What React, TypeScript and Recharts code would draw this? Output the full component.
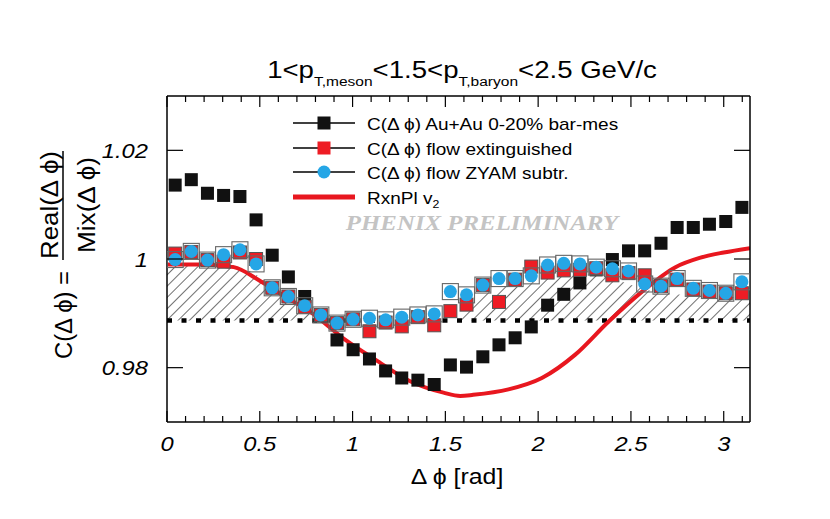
import React from "react";
import {
  ComposedChart,
  XAxis,
  YAxis,
  Scatter,
  Line,
  Area,
  ReferenceLine,
} from "recharts";

// ---- data ----
const phiBins = [
  0.044, 0.131, 0.218, 0.305, 0.393, 0.48, 0.567, 0.654, 0.742, 0.829, 0.916, 1.003,
  1.091, 1.178, 1.265, 1.352, 1.44, 1.527, 1.614, 1.702, 1.789, 1.876, 1.963, 2.051,
  2.138, 2.225, 2.313, 2.4, 2.487, 2.574, 2.662, 2.749, 2.836, 2.923, 3.011, 3.098,
];

const auAuBarMes = [
  1.0136, 1.0146, 1.0121, 1.0117, 1.0115, 1.0072, 1.0007, 0.9967, 0.9931, 0.9895, 0.9851, 0.9833,
  0.9816, 0.9794, 0.9781, 0.9777, 0.9769, 0.9805, 0.9801, 0.982, 0.9842, 0.9855, 0.9875, 0.9915,
  0.9935, 0.9956, 0.998, 0.9999, 1.0015, 1.0015, 1.0029, 1.0058, 1.0058, 1.0064, 1.0069, 1.0095,
];

const flowExtinguished = [
  1.001, 1.0013, 0.9998, 0.9995, 1.0012, 1.0, 0.9947, 0.9931, 0.9912, 0.9897, 0.9882, 0.9889,
  0.9867, 0.9883, 0.9876, 0.9893, 0.9878, 0.9904, 0.9916, 0.9952, 0.9921, 0.9962, 0.9986, 0.9975,
  0.9979, 0.998, 0.9983, 0.997, 0.9974, 0.997, 0.995, 0.9962, 0.9944, 0.994, 0.9937, 0.9937,
];

const flowZyamSubtr = [
  0.9999, 1.0014, 0.9998, 1.0008, 1.0017, 0.9991, 0.9947, 0.9931, 0.9914, 0.9897, 0.9882, 0.9889,
  0.9891, 0.9888, 0.9893, 0.9897, 0.9899, 0.994, 0.9934, 0.9952, 0.9964, 0.9964, 0.9969, 0.9989,
  0.9992, 0.9991, 0.9985, 0.9982, 0.9978, 0.9954, 0.995, 0.9964, 0.9946, 0.9942, 0.9937, 0.9958,
];

const v2Phi = [
  0.0, 0.18, 0.36, 0.5, 0.65, 0.77, 0.95, 1.135, 1.31, 1.49, 1.58, 1.65, 1.84, 2.02, 2.2, 2.38,
  2.56, 2.74, 2.87, 3.0, 3.1416,
];
const v2Values = [
  0.999, 0.999, 0.9985, 0.996, 0.9928, 0.9903, 0.9854, 0.9812, 0.9775, 0.9754, 0.9748, 0.975,
  0.976, 0.9781, 0.9824, 0.9885, 0.994, 0.9985, 1.0002, 1.0012, 1.002,
];

const zyamLevel = 0.9887;
const hatchPhi = [
  0.0, 0.35, 0.45, 0.55, 0.65, 0.75, 0.83, 1.55, 1.6, 1.7, 1.8, 1.9, 2.0, 2.1, 2.3, 2.4, 2.5, 2.6,
  2.8, 3.0, 3.1416,
];
const hatchTop = [
  0.999, 0.999, 0.9978, 0.9955, 0.993, 0.9902, 0.9887, 0.9887, 0.9908, 0.9935, 0.9947, 0.9955,
  0.9963, 0.997, 0.9972, 0.9965, 0.9952, 0.9942, 0.9933, 0.993, 0.993,
];

const xTicks = [
  0, 0.1, 0.2, 0.3, 0.4, 0.5, 0.6, 0.7, 0.8, 0.9, 1.0, 1.1, 1.2, 1.3, 1.4, 1.5, 1.6, 1.7, 1.8,
  1.9, 2.0, 2.1, 2.2, 2.3, 2.4, 2.5, 2.6, 2.7, 2.8, 2.9, 3.0, 3.1,
];
const yTicks = [0.98, 1.0, 1.02];
const xDomain = [0, Math.PI];
const yDomain = [0.97, 1.03];

const legendLabels = [
  "C(\u0394 \u03d5) Au+Au 0-20% bar-mes",
  "C(\u0394 \u03d5) flow extinguished",
  "C(\u0394 \u03d5) flow ZYAM subtr.",
  "RxnPl v",
];

// ---- derived tables ----
const blackData = phiBins.map((x, i) => ({ x, y: auAuBarMes[i] }));
const redData = phiBins.map((x, i) => ({ x, y: flowExtinguished[i] }));
const blueData = phiBins.map((x, i) => ({ x, y: flowZyamSubtr[i] }));
const v2Data = v2Phi.map((x, i) => ({ x, y: v2Values[i] }));
const hatchData = hatchPhi.map((x, i) => ({ x, band: [zyamLevel, hatchTop[i]] }));

// ---- styles ----
const SANS = "'Liberation Sans', Arial, Helvetica, sans-serif";
const SERIF = "'Liberation Serif', 'Times New Roman', serif";
const STRETCH = 1.13;
const BLACK = "#111111";
const RED = "#ee1c24";
const RED_LINE = "#e8171f";
const BLUE = "#25a6e6";

const isMajor = (v: number) => Math.abs(v * 2 - Math.round(v * 2)) < 1e-6;
const fmtX = (v: number) => String(Number(v.toFixed(1)));
const fmtY = (v: number) => (Math.abs(v - 1) < 1e-9 ? "1" : v.toFixed(2));

function XTickBottom(props: any) {
  const { x, y, payload } = props;
  const major = isMajor(payload.value);
  return (
    <g>
      <line x1={x} y1={y} x2={x} y2={y - (major ? 11 : 6)} stroke="#000" strokeWidth={1.2} />
      {major && (
        <g transform={`translate(${x},${y + 29}) scale(${STRETCH},1)`}>
          <text x={0} y={0} textAnchor="middle" fontFamily={SANS} fontStyle="italic" fontSize={21} fill="#000">
            {fmtX(payload.value)}
          </text>
        </g>
      )}
    </g>
  );
}

function XTickTop(props: any) {
  const { x, y, payload } = props;
  const major = isMajor(payload.value);
  return <line x1={x} y1={y} x2={x} y2={y + (major ? 11 : 6)} stroke="#000" strokeWidth={1.2} />;
}

function YTickLeft(props: any) {
  const { x, y, payload } = props;
  return (
    <g>
      <line x1={x} y1={y} x2={x + 16} y2={y} stroke="#000" strokeWidth={1.2} />
      <g transform={`translate(${x - 19},${y + 7.5}) scale(${STRETCH},1)`}>
        <text x={0} y={0} textAnchor="end" fontFamily={SANS} fontStyle="italic" fontSize={21} fill="#000">
          {fmtY(payload.value)}
        </text>
      </g>
    </g>
  );
}

function YTickRight(props: any) {
  const { x, y } = props;
  return <line x1={x} y1={y} x2={x - 16} y2={y} stroke="#000" strokeWidth={1.2} />;
}

const BlackSquare = (p: any) => (
  <rect x={p.cx - 6.5} y={p.cy - 6.5} width={13} height={13} fill={BLACK} />
);
const RedSquare = (p: any) => (
  <rect x={p.cx - 6.5} y={p.cy - 6.5} width={13} height={13} fill={RED} stroke="#555" strokeWidth={1} />
);
const BlueDot = (p: any) => (
  <g>
    <rect x={p.cx - 8} y={p.cy - 8} width={16} height={16} fill="none" stroke="#666" strokeWidth={1.1} />
    <circle cx={p.cx} cy={p.cy} r={6.5} fill={BLUE} />
  </g>
);

function Overlay() {
  const rows = [123, 148, 172, 197];
  return (
    <svg
      width={830}
      height={519}
      style={{ position: "absolute", left: 0, top: 0, pointerEvents: "none" }}
    >
      {/* title */}
      <g transform={`translate(462,78) scale(1.15,1)`}>
        <text x={0} y={0} textAnchor="middle" fontFamily={SANS} fontSize={24} fill="#000">
          <tspan>{"1<p"}</tspan>
          <tspan fontSize={13.5} dy={8}>T,meson</tspan>
          <tspan dy={-8}>{"<1.5<p"}</tspan>
          <tspan fontSize={13.5} dy={8}>T,baryon</tspan>
          <tspan dy={-8}>{"<2.5 GeV/c"}</tspan>
        </text>
      </g>

      {/* y-axis title */}
      <text
        transform="translate(72,315) rotate(-90)"
        textAnchor="middle"
        fontFamily={SANS}
        fontSize={23}
        textLength={88}
        lengthAdjust="spacingAndGlyphs"
        fill="#000"
      >
        {"C(\u0394 \u03d5) ="}
      </text>
      <text
        transform="translate(58,205) rotate(-90)"
        textAnchor="middle"
        fontFamily={SANS}
        fontSize={23}
        textLength={108}
        lengthAdjust="spacingAndGlyphs"
        fill="#000"
      >
        {"Real(\u0394 \u03d5)"}
      </text>
      <line x1={63} y1={151} x2={63} y2={260} stroke="#000" strokeWidth={1.5} />
      <text
        transform="translate(95,205) rotate(-90)"
        textAnchor="middle"
        fontFamily={SANS}
        fontSize={23}
        textLength={96}
        lengthAdjust="spacingAndGlyphs"
        fill="#000"
      >
        {"Mix(\u0394 \u03d5)"}
      </text>

      {/* x-axis title */}
      <g transform={`translate(457,484) scale(${STRETCH},1)`}>
        <text x={0} y={0} textAnchor="middle" fontFamily={SANS} fontSize={22} fill="#000">
          {"\u0394 \u03d5 [rad]"}
        </text>
      </g>

      {/* watermark */}
      <g transform={`translate(482,230) scale(${STRETCH},1)`}>
        <text
          x={0}
          y={0}
          textAnchor="middle"
          fontFamily={SERIF}
          fontWeight="bold"
          fontStyle="italic"
          fontSize={22}
          fill="#c4c4c4"
        >
          PHENIX PRELIMINARY
        </text>
      </g>

      {/* legend */}
      <line x1={293} y1={rows[0]} x2={355} y2={rows[0]} stroke="#000" strokeWidth={1.5} />
      <rect x={324 - 6.5} y={rows[0] - 6.5} width={13} height={13} fill={BLACK} />
      <line x1={293} y1={rows[1]} x2={355} y2={rows[1]} stroke="#000" strokeWidth={1.5} />
      <rect x={324 - 6.5} y={rows[1] - 6.5} width={13} height={13} fill={RED} />
      <line x1={293} y1={rows[2]} x2={355} y2={rows[2]} stroke="#000" strokeWidth={1.5} />
      <circle cx={324} cy={rows[2]} r={6.5} fill={BLUE} />
      <line x1={293} y1={rows[3]} x2={355} y2={rows[3]} stroke={RED_LINE} strokeWidth={5} />
      {legendLabels.map((lab, i) => (
        <g key={i} transform={`translate(367,${rows[i] + 6.5}) scale(1.12,1)`}>
          <text x={0} y={0} fontFamily={SANS} fontSize={17} fill="#000">
            {lab}
            {i === 3 && (
              <tspan fontSize={11} dy={4}>
                2
              </tspan>
            )}
          </text>
        </g>
      ))}
    </svg>
  );
}

export default function App() {
  return (
    <div
      style={{
        position: "absolute",
        left: 0,
        top: 0,
        width: 830,
        height: 519,
        background: "#ffffff",
      }}
    >
      <ComposedChart
        width={830}
        height={519}
        margin={{ top: 86, right: 70, bottom: 67, left: 107 }}
      >
        <defs>
          <pattern
            id="hatch"
            patternUnits="userSpaceOnUse"
            width={8}
            height={8}
            patternTransform="rotate(45)"
          >
            <line x1={0} y1={0} x2={0} y2={8} stroke="#222" strokeWidth={1.3} />
          </pattern>
        </defs>
        <XAxis
          xAxisId={0}
          dataKey="x"
          type="number"
          domain={xDomain}
          allowDataOverflow
          ticks={xTicks}
          interval={0}
          height={30}
          tickSize={0}
          tickMargin={0}
          tickLine={false}
          axisLine={{ stroke: "#000", strokeWidth: 1.5 }}
          tick={<XTickBottom />}
        />
        <XAxis
          xAxisId="top"
          orientation="top"
          dataKey="x"
          type="number"
          domain={xDomain}
          allowDataOverflow
          ticks={xTicks}
          interval={0}
          height={10}
          tickSize={0}
          tickMargin={0}
          tickLine={false}
          axisLine={{ stroke: "#000", strokeWidth: 1.5 }}
          tick={<XTickTop />}
        />
        <YAxis
          yAxisId={0}
          type="number"
          domain={yDomain}
          allowDataOverflow
          ticks={yTicks}
          interval={0}
          width={60}
          tickSize={0}
          tickMargin={0}
          tickLine={false}
          axisLine={{ stroke: "#000", strokeWidth: 1.5 }}
          tick={<YTickLeft />}
        />
        <YAxis
          yAxisId="right"
          orientation="right"
          type="number"
          domain={yDomain}
          allowDataOverflow
          ticks={yTicks}
          interval={0}
          width={10}
          tickSize={0}
          tickMargin={0}
          tickLine={false}
          axisLine={{ stroke: "#000", strokeWidth: 1.5 }}
          tick={<YTickRight />}
        />
        <Area
          data={hatchData}
          dataKey="band"
          type="linear"
          stroke="none"
          fill="url(#hatch)"
          fillOpacity={1}
          isAnimationActive={false}
          dot={false}
          activeDot={false}
        />
        <ReferenceLine
          y={zyamLevel}
          stroke="#000"
          strokeWidth={4.5}
          strokeDasharray="5 9.5"
        />
        <Line
          data={v2Data}
          dataKey="y"
          type="monotone"
          stroke={RED_LINE}
          strokeWidth={4}
          dot={false}
          activeDot={false}
          isAnimationActive={false}
        />
        <Scatter data={blackData} dataKey="y" shape={BlackSquare} isAnimationActive={false} />
        <Scatter data={redData} dataKey="y" shape={RedSquare} isAnimationActive={false} />
        <Scatter data={blueData} dataKey="y" shape={BlueDot} isAnimationActive={false} />
      </ComposedChart>
      <Overlay />
    </div>
  );
}
